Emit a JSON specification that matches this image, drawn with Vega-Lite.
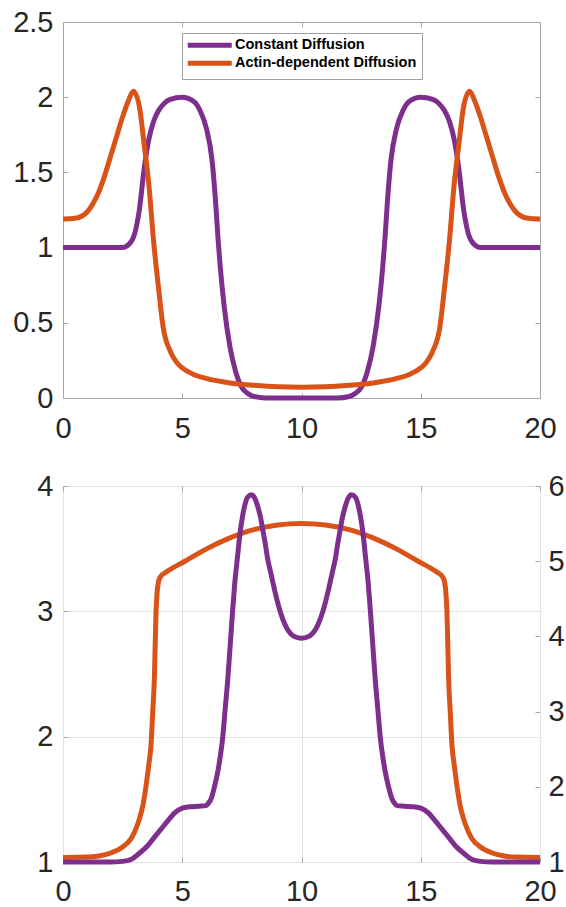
{
  "$schema": "https://vega.github.io/schema/vega-lite/v6.json",
  "padding": {"left": 12, "top": 7, "right": 0, "bottom": 0},
  "background": "white",
  "spacing": 88,
  "bounds": "flush",
  "datasets": {
    "top": [
      {"x": 0, "y": 1.0, "s": "Constant Diffusion"},
      {"x": 1, "y": 1.0, "s": "Constant Diffusion"},
      {"x": 2, "y": 1.0, "s": "Constant Diffusion"},
      {"x": 2.5, "y": 1.0, "s": "Constant Diffusion"},
      {"x": 2.75, "y": 1.02, "s": "Constant Diffusion"},
      {"x": 3.0, "y": 1.09, "s": "Constant Diffusion"},
      {"x": 3.2, "y": 1.25, "s": "Constant Diffusion"},
      {"x": 3.4, "y": 1.52, "s": "Constant Diffusion"},
      {"x": 3.6, "y": 1.72, "s": "Constant Diffusion"},
      {"x": 3.8, "y": 1.84, "s": "Constant Diffusion"},
      {"x": 4.0, "y": 1.91, "s": "Constant Diffusion"},
      {"x": 4.25, "y": 1.96, "s": "Constant Diffusion"},
      {"x": 4.5, "y": 1.985, "s": "Constant Diffusion"},
      {"x": 5.0, "y": 2.0, "s": "Constant Diffusion"},
      {"x": 5.5, "y": 1.97, "s": "Constant Diffusion"},
      {"x": 5.75, "y": 1.91, "s": "Constant Diffusion"},
      {"x": 6.0, "y": 1.8, "s": "Constant Diffusion"},
      {"x": 6.25, "y": 1.58, "s": "Constant Diffusion"},
      {"x": 6.4, "y": 1.3, "s": "Constant Diffusion"},
      {"x": 6.5, "y": 1.06, "s": "Constant Diffusion"},
      {"x": 6.6, "y": 0.86, "s": "Constant Diffusion"},
      {"x": 6.75, "y": 0.62, "s": "Constant Diffusion"},
      {"x": 7.0, "y": 0.34, "s": "Constant Diffusion"},
      {"x": 7.25, "y": 0.17, "s": "Constant Diffusion"},
      {"x": 7.5, "y": 0.07, "s": "Constant Diffusion"},
      {"x": 7.75, "y": 0.03, "s": "Constant Diffusion"},
      {"x": 8.0, "y": 0.01, "s": "Constant Diffusion"},
      {"x": 8.5, "y": 0.0, "s": "Constant Diffusion"},
      {"x": 9.0, "y": 0.0, "s": "Constant Diffusion"},
      {"x": 10.0, "y": 0.0, "s": "Constant Diffusion"},
      {"x": 11.0, "y": 0.0, "s": "Constant Diffusion"},
      {"x": 11.5, "y": 0.0, "s": "Constant Diffusion"},
      {"x": 12.0, "y": 0.01, "s": "Constant Diffusion"},
      {"x": 12.25, "y": 0.03, "s": "Constant Diffusion"},
      {"x": 12.5, "y": 0.07, "s": "Constant Diffusion"},
      {"x": 12.75, "y": 0.17, "s": "Constant Diffusion"},
      {"x": 13.0, "y": 0.34, "s": "Constant Diffusion"},
      {"x": 13.25, "y": 0.62, "s": "Constant Diffusion"},
      {"x": 13.4, "y": 0.86, "s": "Constant Diffusion"},
      {"x": 13.5, "y": 1.06, "s": "Constant Diffusion"},
      {"x": 13.6, "y": 1.3, "s": "Constant Diffusion"},
      {"x": 13.75, "y": 1.58, "s": "Constant Diffusion"},
      {"x": 14.0, "y": 1.8, "s": "Constant Diffusion"},
      {"x": 14.25, "y": 1.91, "s": "Constant Diffusion"},
      {"x": 14.5, "y": 1.97, "s": "Constant Diffusion"},
      {"x": 15.0, "y": 2.0, "s": "Constant Diffusion"},
      {"x": 15.5, "y": 1.985, "s": "Constant Diffusion"},
      {"x": 15.75, "y": 1.96, "s": "Constant Diffusion"},
      {"x": 16.0, "y": 1.91, "s": "Constant Diffusion"},
      {"x": 16.2, "y": 1.84, "s": "Constant Diffusion"},
      {"x": 16.4, "y": 1.72, "s": "Constant Diffusion"},
      {"x": 16.6, "y": 1.52, "s": "Constant Diffusion"},
      {"x": 16.8, "y": 1.25, "s": "Constant Diffusion"},
      {"x": 17.0, "y": 1.09, "s": "Constant Diffusion"},
      {"x": 17.25, "y": 1.02, "s": "Constant Diffusion"},
      {"x": 17.5, "y": 1.0, "s": "Constant Diffusion"},
      {"x": 18.0, "y": 1.0, "s": "Constant Diffusion"},
      {"x": 19.0, "y": 1.0, "s": "Constant Diffusion"},
      {"x": 20.0, "y": 1.0, "s": "Constant Diffusion"},
      {"x": 0, "y": 1.19, "s": "Actin-dependent Diffusion"},
      {"x": 0.5, "y": 1.195, "s": "Actin-dependent Diffusion"},
      {"x": 0.8, "y": 1.21, "s": "Actin-dependent Diffusion"},
      {"x": 1.0, "y": 1.235, "s": "Actin-dependent Diffusion"},
      {"x": 1.25, "y": 1.29, "s": "Actin-dependent Diffusion"},
      {"x": 1.5, "y": 1.37, "s": "Actin-dependent Diffusion"},
      {"x": 1.75, "y": 1.48, "s": "Actin-dependent Diffusion"},
      {"x": 2.0, "y": 1.61, "s": "Actin-dependent Diffusion"},
      {"x": 2.25, "y": 1.74, "s": "Actin-dependent Diffusion"},
      {"x": 2.5, "y": 1.87, "s": "Actin-dependent Diffusion"},
      {"x": 2.75, "y": 1.98, "s": "Actin-dependent Diffusion"},
      {"x": 2.95, "y": 2.04, "s": "Actin-dependent Diffusion"},
      {"x": 3.2, "y": 1.94, "s": "Actin-dependent Diffusion"},
      {"x": 3.4, "y": 1.69, "s": "Actin-dependent Diffusion"},
      {"x": 3.6, "y": 1.42, "s": "Actin-dependent Diffusion"},
      {"x": 3.8, "y": 1.04, "s": "Actin-dependent Diffusion"},
      {"x": 4.0, "y": 0.74, "s": "Actin-dependent Diffusion"},
      {"x": 4.2, "y": 0.47, "s": "Actin-dependent Diffusion"},
      {"x": 4.5, "y": 0.31, "s": "Actin-dependent Diffusion"},
      {"x": 4.75, "y": 0.24, "s": "Actin-dependent Diffusion"},
      {"x": 5.0, "y": 0.2, "s": "Actin-dependent Diffusion"},
      {"x": 5.5, "y": 0.155, "s": "Actin-dependent Diffusion"},
      {"x": 6.0, "y": 0.13, "s": "Actin-dependent Diffusion"},
      {"x": 7.0, "y": 0.1, "s": "Actin-dependent Diffusion"},
      {"x": 8.0, "y": 0.085, "s": "Actin-dependent Diffusion"},
      {"x": 9.0, "y": 0.075, "s": "Actin-dependent Diffusion"},
      {"x": 10.0, "y": 0.072, "s": "Actin-dependent Diffusion"},
      {"x": 11.0, "y": 0.075, "s": "Actin-dependent Diffusion"},
      {"x": 12.0, "y": 0.085, "s": "Actin-dependent Diffusion"},
      {"x": 13.0, "y": 0.1, "s": "Actin-dependent Diffusion"},
      {"x": 14.0, "y": 0.13, "s": "Actin-dependent Diffusion"},
      {"x": 14.5, "y": 0.155, "s": "Actin-dependent Diffusion"},
      {"x": 15.0, "y": 0.2, "s": "Actin-dependent Diffusion"},
      {"x": 15.25, "y": 0.24, "s": "Actin-dependent Diffusion"},
      {"x": 15.5, "y": 0.31, "s": "Actin-dependent Diffusion"},
      {"x": 15.8, "y": 0.47, "s": "Actin-dependent Diffusion"},
      {"x": 16.0, "y": 0.74, "s": "Actin-dependent Diffusion"},
      {"x": 16.2, "y": 1.04, "s": "Actin-dependent Diffusion"},
      {"x": 16.4, "y": 1.42, "s": "Actin-dependent Diffusion"},
      {"x": 16.6, "y": 1.69, "s": "Actin-dependent Diffusion"},
      {"x": 16.8, "y": 1.94, "s": "Actin-dependent Diffusion"},
      {"x": 17.05, "y": 2.04, "s": "Actin-dependent Diffusion"},
      {"x": 17.25, "y": 1.98, "s": "Actin-dependent Diffusion"},
      {"x": 17.5, "y": 1.87, "s": "Actin-dependent Diffusion"},
      {"x": 17.75, "y": 1.74, "s": "Actin-dependent Diffusion"},
      {"x": 18.0, "y": 1.61, "s": "Actin-dependent Diffusion"},
      {"x": 18.25, "y": 1.48, "s": "Actin-dependent Diffusion"},
      {"x": 18.5, "y": 1.37, "s": "Actin-dependent Diffusion"},
      {"x": 18.75, "y": 1.29, "s": "Actin-dependent Diffusion"},
      {"x": 19.0, "y": 1.235, "s": "Actin-dependent Diffusion"},
      {"x": 19.2, "y": 1.21, "s": "Actin-dependent Diffusion"},
      {"x": 19.5, "y": 1.195, "s": "Actin-dependent Diffusion"},
      {"x": 20.0, "y": 1.19, "s": "Actin-dependent Diffusion"}
    ],
    "bottom": [
      {"x": 0, "y": 1.0, "s": "c"},
      {"x": 2.0, "y": 1.0, "s": "c"},
      {"x": 2.5, "y": 1.005, "s": "c"},
      {"x": 2.85, "y": 1.02, "s": "c"},
      {"x": 3.2, "y": 1.07, "s": "c"},
      {"x": 3.55, "y": 1.13, "s": "c"},
      {"x": 3.8, "y": 1.19, "s": "c"},
      {"x": 4.1, "y": 1.26, "s": "c"},
      {"x": 4.4, "y": 1.33, "s": "c"},
      {"x": 4.67, "y": 1.39, "s": "c"},
      {"x": 5.0, "y": 1.43, "s": "c"},
      {"x": 5.3, "y": 1.44, "s": "c"},
      {"x": 5.7, "y": 1.445, "s": "c"},
      {"x": 6.0, "y": 1.45, "s": "c"},
      {"x": 6.1, "y": 1.47, "s": "c"},
      {"x": 6.2, "y": 1.5, "s": "c"},
      {"x": 6.35, "y": 1.6, "s": "c"},
      {"x": 6.49, "y": 1.72, "s": "c"},
      {"x": 6.6, "y": 1.85, "s": "c"},
      {"x": 6.7, "y": 2.0, "s": "c"},
      {"x": 6.8, "y": 2.22, "s": "c"},
      {"x": 6.91, "y": 2.46, "s": "c"},
      {"x": 7.0, "y": 2.7, "s": "c"},
      {"x": 7.11, "y": 3.0, "s": "c"},
      {"x": 7.2, "y": 3.22, "s": "c"},
      {"x": 7.32, "y": 3.44, "s": "c"},
      {"x": 7.42, "y": 3.62, "s": "c"},
      {"x": 7.53, "y": 3.76, "s": "c"},
      {"x": 7.64, "y": 3.86, "s": "c"},
      {"x": 7.74, "y": 3.91, "s": "c"},
      {"x": 7.91, "y": 3.93, "s": "c"},
      {"x": 8.05, "y": 3.9, "s": "c"},
      {"x": 8.16, "y": 3.84, "s": "c"},
      {"x": 8.27, "y": 3.76, "s": "c"},
      {"x": 8.37, "y": 3.66, "s": "c"},
      {"x": 8.48, "y": 3.54, "s": "c"},
      {"x": 8.58, "y": 3.42, "s": "c"},
      {"x": 8.72, "y": 3.3, "s": "c"},
      {"x": 8.86, "y": 3.18, "s": "c"},
      {"x": 9.0, "y": 3.07, "s": "c"},
      {"x": 9.21, "y": 2.94, "s": "c"},
      {"x": 9.4, "y": 2.86, "s": "c"},
      {"x": 9.56, "y": 2.82, "s": "c"},
      {"x": 9.75, "y": 2.795, "s": "c"},
      {"x": 10.0, "y": 2.785, "s": "c"},
      {"x": 10.25, "y": 2.795, "s": "c"},
      {"x": 10.44, "y": 2.82, "s": "c"},
      {"x": 10.6, "y": 2.86, "s": "c"},
      {"x": 10.79, "y": 2.94, "s": "c"},
      {"x": 11.0, "y": 3.07, "s": "c"},
      {"x": 11.14, "y": 3.18, "s": "c"},
      {"x": 11.28, "y": 3.3, "s": "c"},
      {"x": 11.42, "y": 3.42, "s": "c"},
      {"x": 11.52, "y": 3.54, "s": "c"},
      {"x": 11.63, "y": 3.66, "s": "c"},
      {"x": 11.73, "y": 3.76, "s": "c"},
      {"x": 11.84, "y": 3.84, "s": "c"},
      {"x": 11.95, "y": 3.9, "s": "c"},
      {"x": 12.09, "y": 3.93, "s": "c"},
      {"x": 12.26, "y": 3.91, "s": "c"},
      {"x": 12.36, "y": 3.86, "s": "c"},
      {"x": 12.47, "y": 3.76, "s": "c"},
      {"x": 12.58, "y": 3.62, "s": "c"},
      {"x": 12.68, "y": 3.44, "s": "c"},
      {"x": 12.8, "y": 3.22, "s": "c"},
      {"x": 12.89, "y": 3.0, "s": "c"},
      {"x": 13.0, "y": 2.7, "s": "c"},
      {"x": 13.09, "y": 2.46, "s": "c"},
      {"x": 13.2, "y": 2.22, "s": "c"},
      {"x": 13.3, "y": 2.0, "s": "c"},
      {"x": 13.4, "y": 1.85, "s": "c"},
      {"x": 13.51, "y": 1.72, "s": "c"},
      {"x": 13.65, "y": 1.6, "s": "c"},
      {"x": 13.8, "y": 1.5, "s": "c"},
      {"x": 13.9, "y": 1.47, "s": "c"},
      {"x": 14.0, "y": 1.45, "s": "c"},
      {"x": 14.3, "y": 1.445, "s": "c"},
      {"x": 14.7, "y": 1.44, "s": "c"},
      {"x": 15.0, "y": 1.43, "s": "c"},
      {"x": 15.33, "y": 1.39, "s": "c"},
      {"x": 15.6, "y": 1.33, "s": "c"},
      {"x": 15.9, "y": 1.26, "s": "c"},
      {"x": 16.2, "y": 1.19, "s": "c"},
      {"x": 16.45, "y": 1.13, "s": "c"},
      {"x": 16.8, "y": 1.07, "s": "c"},
      {"x": 17.15, "y": 1.02, "s": "c"},
      {"x": 17.5, "y": 1.005, "s": "c"},
      {"x": 18.0, "y": 1.0, "s": "c"},
      {"x": 20.0, "y": 1.0, "s": "c"},
      {"x": 0, "y": 1.06, "s": "a"},
      {"x": 1.0, "y": 1.065, "s": "a"},
      {"x": 1.5, "y": 1.08, "s": "a"},
      {"x": 2.0, "y": 1.12, "s": "a"},
      {"x": 2.5, "y": 1.2, "s": "a"},
      {"x": 2.85, "y": 1.31, "s": "a"},
      {"x": 3.0, "y": 1.4, "s": "a"},
      {"x": 3.2, "y": 1.57, "s": "a"},
      {"x": 3.35, "y": 1.75, "s": "a"},
      {"x": 3.48, "y": 2.01, "s": "a"},
      {"x": 3.6, "y": 2.3, "s": "a"},
      {"x": 3.69, "y": 2.55, "s": "a"},
      {"x": 3.76, "y": 2.98, "s": "a"},
      {"x": 3.83, "y": 3.43, "s": "a"},
      {"x": 3.9, "y": 4.32, "s": "a"},
      {"x": 3.95, "y": 4.6, "s": "a"},
      {"x": 4.0, "y": 4.72, "s": "a"},
      {"x": 4.08, "y": 4.79, "s": "a"},
      {"x": 4.3, "y": 4.85, "s": "a"},
      {"x": 4.6, "y": 4.91, "s": "a"},
      {"x": 5.0, "y": 4.98, "s": "a"},
      {"x": 5.5, "y": 5.07, "s": "a"},
      {"x": 6.0, "y": 5.16, "s": "a"},
      {"x": 7.0, "y": 5.31, "s": "a"},
      {"x": 8.0, "y": 5.42, "s": "a"},
      {"x": 9.0, "y": 5.48, "s": "a"},
      {"x": 10.0, "y": 5.5, "s": "a"},
      {"x": 11.0, "y": 5.48, "s": "a"},
      {"x": 12.0, "y": 5.42, "s": "a"},
      {"x": 13.0, "y": 5.31, "s": "a"},
      {"x": 14.0, "y": 5.16, "s": "a"},
      {"x": 14.5, "y": 5.07, "s": "a"},
      {"x": 15.0, "y": 4.98, "s": "a"},
      {"x": 15.4, "y": 4.91, "s": "a"},
      {"x": 15.7, "y": 4.85, "s": "a"},
      {"x": 15.92, "y": 4.79, "s": "a"},
      {"x": 16.0, "y": 4.72, "s": "a"},
      {"x": 16.05, "y": 4.6, "s": "a"},
      {"x": 16.1, "y": 4.32, "s": "a"},
      {"x": 16.17, "y": 3.43, "s": "a"},
      {"x": 16.24, "y": 2.98, "s": "a"},
      {"x": 16.31, "y": 2.55, "s": "a"},
      {"x": 16.4, "y": 2.3, "s": "a"},
      {"x": 16.52, "y": 2.01, "s": "a"},
      {"x": 16.65, "y": 1.75, "s": "a"},
      {"x": 16.8, "y": 1.57, "s": "a"},
      {"x": 17.0, "y": 1.4, "s": "a"},
      {"x": 17.15, "y": 1.31, "s": "a"},
      {"x": 17.5, "y": 1.2, "s": "a"},
      {"x": 18.0, "y": 1.12, "s": "a"},
      {"x": 18.5, "y": 1.08, "s": "a"},
      {"x": 19.0, "y": 1.065, "s": "a"},
      {"x": 20.0, "y": 1.06, "s": "a"}
    ]
  },
  "vconcat": [
    {
      "width": 477,
      "height": 376,
      "data": {"name": "top"},
      "layer": [
        {
          "mark": {"type": "line", "strokeWidth": 5, "interpolate": "monotone"},
          "encoding": {
            "x": {"field": "x", "type": "quantitative", "title": null,
                  "scale": {"domain": [0, 20], "nice": false, "zero": false},
                  "axis": {"orient": "bottom", "values": [0, 5, 10, 15, 20], "labelPadding": 21}},
            "y": {"field": "y", "type": "quantitative", "title": null,
                  "scale": {"domain": [0, 2.5], "nice": false, "zero": false},
                  "axis": {"orient": "left", "values": [0, 0.5, 1, 1.5, 2, 2.5], "format": "~g", "labelPadding": 15}},
            "color": {"field": "s", "type": "nominal", "sort": null,
                      "scale": {"domain": ["Constant Diffusion", "Actin-dependent Diffusion"], "range": ["#7E2F8E", "#D95319"]},
                      "legend": {"orient": "none", "legendX": 119, "legendY": 11, "title": null,
                                 "symbolType": "M-5.5,0H5.5", "symbolSize": 64, "symbolStrokeWidth": 5,
                                 "symbolOffset": 15.5, "labelOffset": 18, "labelFont": "Liberation Sans",
                                 "labelFontWeight": "bold", "labelFontSize": 14.5, "labelColor": "#000000",
                                 "rowPadding": -3, "padding": 5, "strokeColor": "#a0a0a0", "fillColor": "#ffffff",
                                 "labelLimit": 400}}
          }
        },
        {
          "mark": {"type": "line", "opacity": 0},
          "encoding": {
            "x": {"field": "x", "type": "quantitative", "title": null,
                  "axis": {"orient": "top", "labels": false, "values": [0, 5, 10, 15, 20]}},
            "y": {"field": "y", "type": "quantitative", "title": null,
                  "axis": {"orient": "right", "labels": false, "values": [0, 0.5, 1, 1.5, 2, 2.5]}},
            "detail": {"field": "s", "type": "nominal"}
          }
        }
      ],
      "resolve": {"axis": {"x": "independent", "y": "independent"}}
    },
    {
      "width": 477,
      "height": 376,
      "data": {"name": "bottom"},
      "layer": [
        {
          "transform": [{"filter": "datum.s === 'a'"}],
          "mark": {"type": "line", "strokeWidth": 5, "interpolate": "monotone", "color": "#D95319"},
          "encoding": {
            "x": {"field": "x", "type": "quantitative", "title": null,
                  "scale": {"domain": [0, 20], "nice": false, "zero": false},
                  "axis": {"orient": "top", "labels": false, "values": [0, 5, 10, 15, 20]}},
            "y": {"field": "y", "type": "quantitative", "title": null,
                  "scale": {"domain": [1, 6], "nice": false, "zero": false},
                  "axis": {"orient": "right", "values": [1, 2, 3, 4, 5, 6], "labelPadding": 13}}
          }
        },
        {
          "transform": [{"filter": "datum.s === 'c'"}],
          "mark": {"type": "line", "strokeWidth": 5, "interpolate": "monotone", "color": "#7E2F8E"},
          "encoding": {
            "x": {"field": "x", "type": "quantitative", "title": null,
                  "axis": {"orient": "bottom", "values": [0, 5, 10, 15, 20], "grid": true, "labelPadding": 20}},
            "y": {"field": "y", "type": "quantitative", "title": null,
                  "scale": {"domain": [1, 4], "nice": false, "zero": false},
                  "axis": {"orient": "left", "values": [1, 2, 3, 4], "grid": true, "labelPadding": 15}}
          }
        }
      ],
      "resolve": {"scale": {"y": "independent"}, "axis": {"x": "independent", "y": "independent"}}
    }
  ],
  "config": {
    "view": {"stroke": "#a6a6a6", "strokeWidth": 1},
    "axis": {
      "domain": false,
      "grid": false,
      "labelFont": "Liberation Sans",
      "labelFontSize": 29,
      "labelColor": "#262626",
      "tickColor": "#a6a6a6",
      "tickSize": -5,
      "tickWidth": 1,
      "labelFlush": false,
      "labelOverlap": false,
      "gridColor": "#e3e3e3",
      "gridWidth": 1
    }
  }
}
